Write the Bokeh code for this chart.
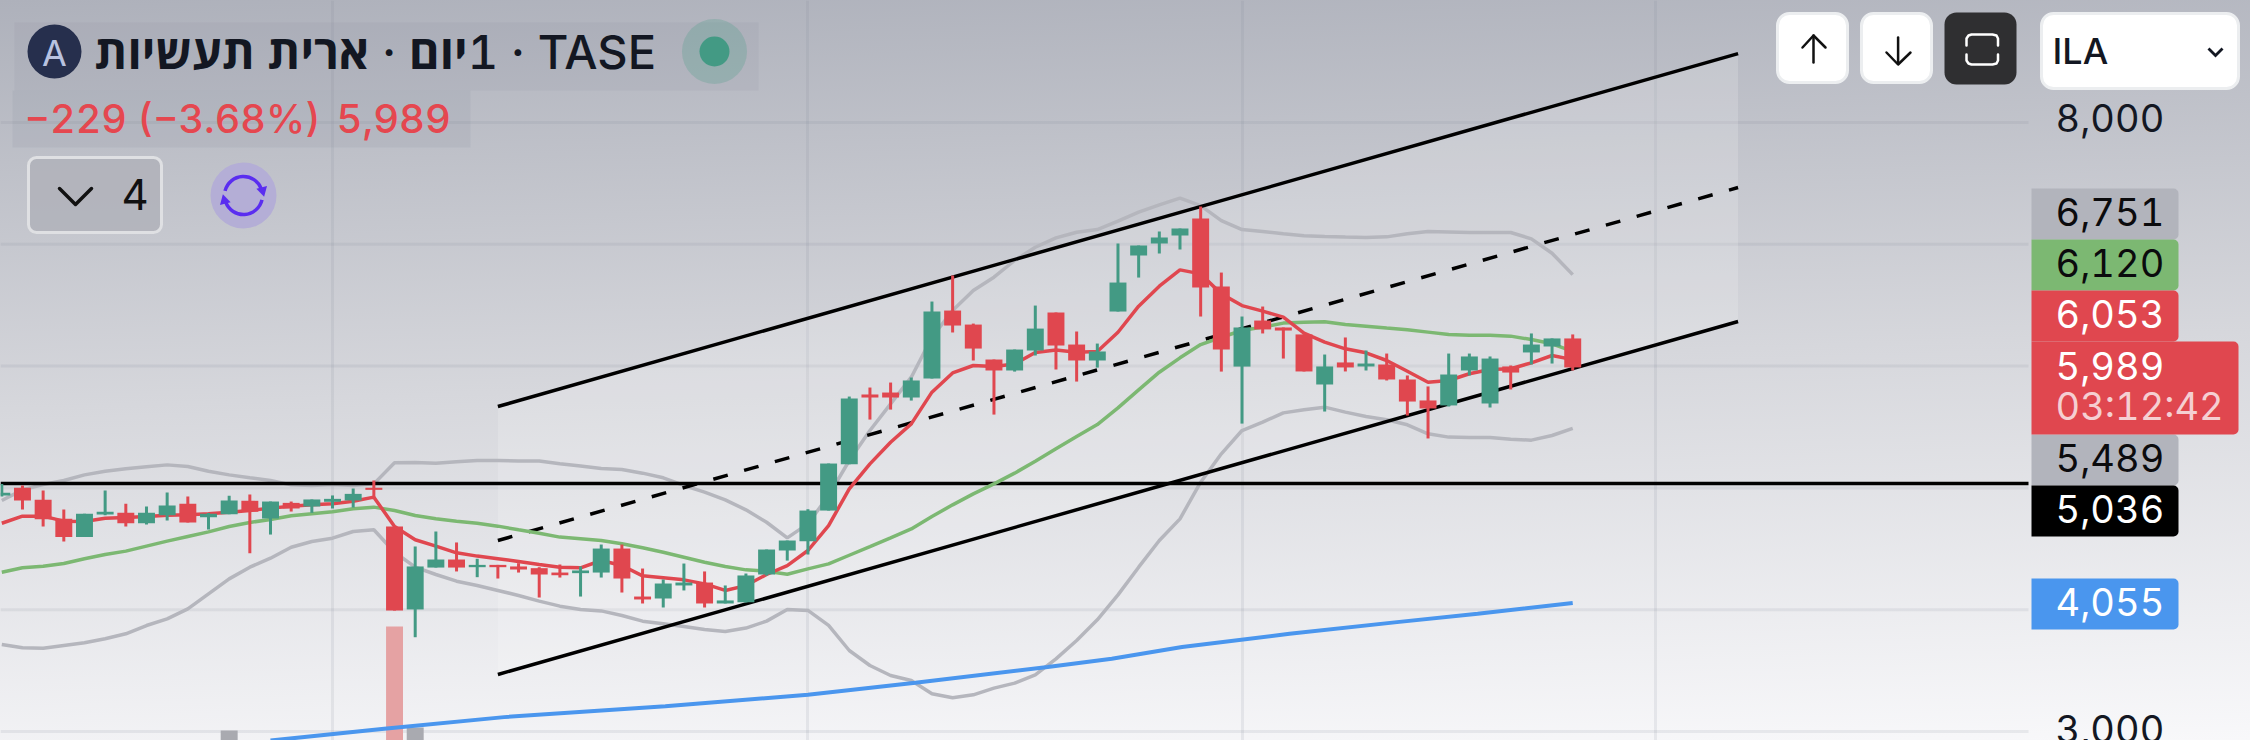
from bokeh.core.properties import value
from bokeh.embed import file_html
from bokeh.resources import INLINE
from bokeh.plotting import figure
from bokeh.models import (BoxAnnotation, ColumnDataSource, FixedTicker, Label,
                          PolyAnnotation, Range1d)

# ---- chart values -----------------------------------------------------------
OPEN = [4938,5001,4902,4746,4596,4782,4795,4710,4776,4869,4760,4784,4894,4749,4877,4847,4886,4897,5001,4683,
        4002,4346,4412,4349,4368,4355,4341,4305,4300,4305,4502,4108,4092,4199,4223,4051,4061,4289,4486,4562,
        4814,5194,5767,5783,5742,5898,6456,6341,6054,5964,6128,6440,6177,6046,6448,6908,7006,7072,7212,6653,
        5996,6374,6317,6260,5849,6030,5997,6013,5890,5718,5677,5964,5693,5997,6112,6161,6227]
CLOSE = [4960,4897,4743,4596,4787,4804,4710,4795,4856,4716,4787,4897,4804,4888,4831,4905,4910,4951,4984,3993,
         4355,4412,4346,4368,4349,4330,4289,4283,4322,4502,4256,4084,4215,4223,4051,4076,4281,4494,4568,4814,
         5200,5734,5742,5742,5882,6448,6333,6144,5964,6136,6308,6169,6046,6120,6686,6990,7056,7130,6645,6136,
         6317,6301,6292,5956,5997,5989,6021,5890,5709,5652,5931,6079,6062,5947,6177,6227,5989]
HIGH = [5033,5020,4979,4823,4787,4979,4869,4847,4962,4929,4793,4935,4946,4888,4888,4905,4938,4995,5061,4683,
        4519,4642,4552,4418,4368,4382,4349,4371,4355,4535,4535,4338,4248,4379,4314,4199,4297,4494,4568,4825,
        5200,5750,5824,5865,5906,6530,6744,6349,6054,6136,6497,6440,6284,6185,7006,6990,7105,7130,7310,6768,
        6407,6489,6317,6260,6095,6235,6128,6103,5923,5833,6103,6103,6079,6005,6268,6227,6260]
LOW = [4929,4823,4683,4560,4596,4776,4683,4700,4732,4716,4658,4784,4464,4617,4806,4795,4831,4839,4924,3993,
       3774,4346,4314,4267,4256,4305,4100,4264,4108,4264,4141,4051,4018,4158,4018,4051,4059,4280,4403,4453,
       4814,5194,5561,5643,5717,5898,6276,6046,5602,5955,6087,5972,5873,5988,6448,6727,6924,6957,6407,5955,
       5528,6268,6062,5956,5627,5956,5964,5882,5594,5406,5668,5923,5660,5808,6013,6021,5964]
MA_FAST = [4710,4768,4768,4727,4724,4751,4757,4765,4776,4779,4787,4801,4814,4834,4850,4861,4869,4891,4924,4683,
           4574,4522,4467,4440,4418,4396,4371,4349,4344,4404,4363,4278,4262,4245,4212,4158,4198,4289,4362,4486,
           4691,4992,5197,5375,5526,5786,5944,6005,5996,6018,6111,6133,6114,6120,6278,6492,6656,6790,6757,6593,
           6497,6451,6402,6270,6197,6142,6109,6046,5958,5868,5882,5937,5972,5978,6027,6087,6053]
MA_SLOW = [4308,4344,4357,4379,4418,4453,4481,4522,4563,4601,4639,4683,4716,4741,4771,4787,4804,4828,4842,4814,
           4773,4746,4727,4710,4686,4656,4628,4596,4582,4568,4541,4508,4472,4431,4390,4355,4327,4316,4291,4335,
           4376,4447,4518,4590,4663,4765,4861,4951,5033,5121,5219,5321,5422,5520,5657,5805,5950,6068,6177,6237,
           6292,6320,6353,6361,6364,6342,6328,6312,6298,6279,6260,6254,6254,6246,6218,6183,6120]
BB_UPPER = [4897,4984,5028,5061,5107,5137,5157,5173,5189,5176,5137,5107,5083,5061,5025,5020,5028,5020,5033,5206,
            5209,5203,5214,5225,5225,5220,5220,5198,5179,5159,5151,5121,5083,5020,4965,4902,4820,4718,4590,4705,
            4937,5225,5471,5690,5909,6237,6456,6620,6730,6867,6976,7053,7099,7121,7190,7264,7324,7379,7318,7195,
            7121,7105,7086,7070,7064,7059,7056,7061,7086,7105,7102,7097,7097,7097,7045,6927,6751]
BB_LOWER = [3714,3687,3684,3706,3728,3761,3802,3870,3925,4007,4130,4253,4349,4423,4513,4560,4587,4642,4656,4472,
            4349,4289,4234,4199,4158,4117,4070,4029,4002,3990,3952,3906,3884,3862,3838,3821,3849,3906,4002,3994,
            3871,3665,3542,3460,3419,3310,3277,3301,3356,3397,3465,3596,3747,3917,4122,4349,4568,4746,5047,5280,
            5471,5540,5616,5641,5663,5622,5586,5559,5518,5444,5417,5414,5414,5400,5392,5430,5489]
LONG_IDX = [13, 18.5, 24.3, 32.1, 39, 44.2, 50.6, 53.7, 57.1, 62.3, 67.5, 71.4, 76]
LONG_MA = [2926, 3022, 3118, 3208, 3301, 3400, 3529, 3597, 3693, 3802, 3898, 3966, 4055]
VOL_IDX = [11, 19, 20]
VOL_VAL = [10000, 114000, 13000]
VOL_COL = ["#a9aab0", "#e5a2a3", "#a9aab0"]
CHANNEL_IDX = [24, 84]
CHANNEL_UP = [5668, 8566]
CHANNEL_MID = [4568, 7466]
CHANNEL_LOW = [3468, 6366]
HLINE = 5036
X_GRID = [16, 39, 60, 80]
Y_GRID = [3000, 4000, 5000, 6000, 7000, 8000]
Y_TICKS = [8000, 3000]
Y_TICK_LABELS = ["8,000", "3,000"]
PILLS = [("6,751", "#b2b4bc", "#0b0b0d", 188, 239), ("6,120", "#7cb872", "#0b0b0d", 239, 290),
         ("6,053", "#e0474f", "#ffffff", 290, 341), ("5,489", "#b2b4bc", "#0b0b0d", 434, 485),
         ("5,036", "#000000", "#ffffff", 485, 536), ("4,055", "#4a96ee", "#ffffff", 578, 629)]
TITLE = "\u202bTASE \u200f·\u200f 1יום · ארית תעשיות\u202c"

# ---- colours ----------------------------------------------------------------
UP = "#439a84"; DOWN = "#e0474f"; INK = "#131722"; FONT = "Inter, 'Open Sans', sans-serif"
TITLE_FONT = "'Inter Medium', Inter, 'Open Sans', sans-serif"

# ---- reference pixel -> data helpers, for the page furniture only -----------
def X(px): return (px - 1.3) / 20.67
def Y(py): return 8000 - (py - 122) * 8.2102

p = figure(width=2250, height=740, output_backend="svg", toolbar_location=None,
           x_range=Range1d(X(0), X(2250)), y_range=Range1d(Y(740), Y(0)),
           min_border=0, background_fill_color=None, border_fill_color=None, outline_line_color=None)
p.styles = {"background": "linear-gradient(178deg, #aeb1bb 0%, #d6d7dc 50%, #f8f8fa 100%)",
            "font-feature-settings": "'tnum'"}
p.xaxis.visible = False
p.yaxis.visible = False
p.ygrid.visible = False
p.xgrid.ticker = FixedTicker(ticks=X_GRID)
p.xgrid.grid_line_color = "#7c8090"; p.xgrid.grid_line_alpha = 0.13; p.xgrid.grid_line_width = 3
p.segment([X(0)] * len(Y_GRID), Y_GRID, [X(2028)] * len(Y_GRID), Y_GRID, color="#7c8090", alpha=0.13,
          line_width=3, level="underlay")

# ---- channel ----------------------------------------------------------------
p.patch(CHANNEL_IDX + CHANNEL_IDX[::-1], CHANNEL_UP + CHANNEL_LOW[::-1], color="#ffffff", alpha=0.17, line_width=0)

# ---- volume -----------------------------------------------------------------
p.extra_y_ranges = {"vol": Range1d(0, 740000)}
p.vbar(VOL_IDX, top=VOL_VAL, bottom=0, width=0.82, color=VOL_COL, y_range_name="vol", line_width=0)

# ---- lines ------------------------------------------------------------------
idx = list(range(len(OPEN)))
p.line(idx, BB_UPPER, color="#b5b6bd", line_width=3.5)
p.line(idx, BB_LOWER, color="#b5b6bd", line_width=3.5)
p.line(LONG_IDX, LONG_MA, color="#4a96ee", line_width=4)
p.line(CHANNEL_IDX, CHANNEL_UP, color="#000000", line_width=3.5)
p.line(CHANNEL_IDX, CHANNEL_LOW, color="#000000", line_width=3.5)
p.line(CHANNEL_IDX, CHANNEL_MID, color="#000000", line_width=3.5, line_dash="15 17")
p.line([X(0), X(2028)], [HLINE, HLINE], color="#000000", line_width=3.5)
p.line(idx, MA_SLOW, color="#7cb872", line_width=3.5)
p.line(idx, MA_FAST, color=DOWN, line_width=3.5)

# ---- candles ----------------------------------------------------------------
colors = [UP if c >= o else DOWN for o, c in zip(OPEN, CLOSE)]
src = ColumnDataSource(dict(x=idx, o=OPEN, c=CLOSE, h=HIGH, l=LOW, col=colors))
p.segment("x", "h", "x", "l", source=src, color="col", line_width=3)
p.vbar("x", top="o", bottom="c", width=0.82, source=src, color="col", line_width=0)

# ---- price-axis labels ------------------------------------------------------
tick_src = ColumnDataSource(dict(x=[X(2055)] * len(Y_TICKS), y=Y_TICKS, t=Y_TICK_LABELS, off=[-5, -2]))
p.text("x", "y", text="t", source=tick_src, text_font=value("Inter"), text_font_size="38px",
       text_color=INK, text_baseline="middle", text_align="left", y_offset="off", level="overlay")

# ---- page furniture ---------------------------------------------------------
def box(x0, y0, x1, y1, fill, alpha=1.0, line=None, lw=0, radius=0):
    p.add_layout(BoxAnnotation(left=X(x0), right=X(x1), top=Y(y0), bottom=Y(y1), fill_color=fill,
                               fill_alpha=alpha, line_color=line, line_alpha=1, line_width=lw,
                               border_radius=radius, level="annotation"))

def text(px, py, s, size, color, style="normal", font=FONT, align="left"):
    p.add_layout(Label(x=X(px), y=Y(py), text=s, text_font=font, text_font_size=f"{size}px",
                       text_color=color, text_font_style=style, text_align=align,
                       text_baseline="middle", level="overlay"))

def stroke(pts, color, lw=2.5):
    p.line([X(a) for a, _ in pts], [Y(b) for _, b in pts], color=color, line_width=lw, level="overlay",
           line_cap="round", line_join="round")

# header bands
box(14, 22, 758, 90, "#7c8090", 0.10)
box(12, 90, 470, 147, "#7c8090", 0.12)
p.scatter([X(54)], [Y(51)], size=54, color="#262f4d", level="overlay", line_width=0)
text(54, 52, "A", 36, "#b8c2e0", align="center")
text(94, 51, TITLE, 47, INK, style="bold", font=TITLE_FONT)
p.scatter([X(714)], [Y(51)], size=65, color="#439a84", alpha=0.25, level="overlay", line_width=0)
p.scatter([X(714)], [Y(51)], size=30, color=UP, level="overlay", line_width=0)
text(24, 118, "−229 (−3.68%)", 39.5, "#e5474f", font=TITLE_FONT)
text(336, 118, "5,989", 40, "#e5474f", font=TITLE_FONT)

# collapse button
box(28, 157, 161, 232, "#b0b2ba", 0.85, "#dfe0e3", 3, 8)
stroke([(59, 188), (75, 204), (91, 188)], "#111111", 3.5)
text(121, 194, "4", 42, "#111111")

# sync badge
p.scatter([X(243)], [Y(195)], size=66, color="#b4aed6", level="overlay", line_width=0)
p.arc([X(243)], [Y(195)], radius=19 / 20.67, start_angle=0.35, end_angle=2.9, color="#5a2df0",
      line_width=3.5, level="overlay")
p.arc([X(243)], [Y(195)], radius=19 / 20.67, start_angle=3.5, end_angle=6.05, color="#5a2df0",
      line_width=3.5, level="overlay")
p.scatter([X(262)], [Y(190)], size=11, marker="triangle", angle=3.4, color="#5a2df0", level="overlay", line_width=0)
p.scatter([X(224)], [Y(200)], size=11, marker="triangle", angle=0.26, color="#5a2df0", level="overlay", line_width=0)

# top-right buttons
box(1777, 13, 1847, 82, "#ffffff", 1, "#eceef0", 3, 12)
box(1861, 13, 1931, 82, "#ffffff", 1, "#eceef0", 3, 12)
box(1944, 12, 2016, 84, "#2f2f31", 1, None, 0, 12)
stroke([(1813, 35), (1813, 62)], "#111111")
stroke([(1802, 47), (1813, 35), (1825, 47)], "#111111")
stroke([(1897.6, 37), (1897.6, 63)], "#111111")
stroke([(1886, 52), (1897.6, 64), (1910, 52)], "#111111")
stroke([(1966, 45), (1966, 38), (1968, 35), (1971, 34), (1992, 34), (1996, 35), (1997.5, 38), (1997.5, 45)], "#ffffff")
stroke([(1966, 54), (1966, 60), (1968, 63), (1971, 64), (1992, 64), (1996, 63), (1997.5, 60), (1997.5, 54)], "#ffffff")
box(2041, 13, 2238, 88, "#ffffff", 1, "#eceef0", 3, 12)
text(2052, 50, "ILA", 36, INK, style="bold", font=TITLE_FONT)
cx, cy = 2215, 52
p.add_layout(PolyAnnotation(
    xs=[X(a) for a in (cx - 8, cx, cx + 8, cx + 6, cx, cx - 6)],
    ys=[Y(b) for b in (cy - 3, cy + 5, cy - 3, cy - 5, cy + 1, cy - 5)],
    fill_color=INK, fill_alpha=1, line_color=None, level="annotation"))

# price pills
for label, fill, ink, y0, y1 in PILLS:
    box(2031, y0, 2178, y1, fill, 1, None, 0, dict(top_left=0, top_right=5, bottom_right=5, bottom_left=0))
    text(2055, (y0 + y1) / 2 - 2, label, 38, ink)
box(2031, 341, 2238, 434, DOWN, 1, None, 0, dict(top_left=0, top_right=5, bottom_right=5, bottom_left=0))
text(2055, 365, "5,989", 38, "#ffffff")
text(2055, 405, "03:12:42", 38, "#f5cfd2")

open("out.html", "w").write(file_html(p, INLINE))
